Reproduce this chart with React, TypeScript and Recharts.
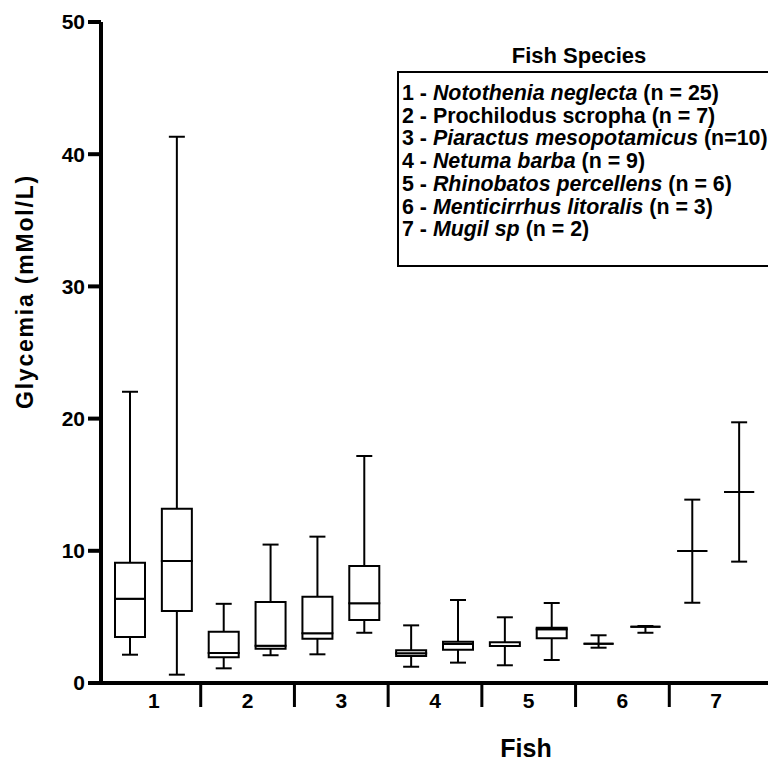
import React from 'react';
import { ComposedChart, Bar, XAxis, YAxis, Legend, Label } from 'recharts';

// Two boxes per fish species, in plotting order
const boxKeys = ['1a', '1b', '2a', '2b', '3a', '3b', '4a', '4b', '5a', '5b', '6a', '6b', '7a', '7b'];
const groupLabels = ['1', '2', '3', '4', '5', '6', '7'];

// five-number summaries (mMol/L)
const minValues = [2.14, 0.63, 1.11, 2.1, 2.17, 3.8, 1.23, 1.54, 1.34, 1.74, 2.67, 3.8, 6.07, 9.18];
const q1Values = [3.48, 5.45, 1.94, 2.59, 3.35, 4.77, 2.04, 2.52, 2.8, 3.38, 2.97, 4.26, 9.98, 14.45];
const medianValues = [6.38, 9.23, 2.27, 2.82, 3.76, 6.03, 2.25, 2.95, 2.8, 4.06, 2.97, 4.26, 9.98, 14.45];
const q3Values = [9.1, 13.18, 3.88, 6.13, 6.53, 8.85, 2.47, 3.12, 3.08, 4.18, 2.97, 4.26, 9.98, 14.45];
const maxValues = [22.03, 41.32, 5.99, 10.47, 11.07, 17.17, 4.36, 6.28, 4.97, 6.05, 3.61, 4.31, 13.87, 19.72];

const yTicks = [0, 10, 20, 30, 40, 50];

const speciesNames = [
  'Notothenia neglecta',
  'Prochilodus scropha',
  'Piaractus mesopotamicus',
  'Netuma barba',
  'Rhinobatos percellens',
  'Menticirrhus litoralis',
  'Mugil sp',
];
const speciesCounts = ['(n = 25)', '(n = 7)', '(n=10)', '(n = 9)', '(n = 6)', '(n = 3)', '(n = 2)'];
const speciesItalic = [true, false, true, true, true, true, true];

const FONT = '"Liberation Sans", Arial, Helvetica, sans-serif';

// stacked segments: invisible base, lower whisker, lower box, upper box, upper whisker
const data = boxKeys.map((key, i) => ({
  key,
  base: minValues[i],
  lowWhisker: q1Values[i] - minValues[i],
  lowBox: medianValues[i] - q1Values[i],
  highBox: q3Values[i] - medianValues[i],
  highWhisker: maxValues[i] - q3Values[i],
}));

const CAP = 8;

const EmptyShape = () => <g />;

const LowWhiskerShape = (props: any) => {
  const { x, y, width, height } = props;
  const cx = x + width / 2;
  return (
    <g>
      <line x1={cx} x2={cx} y1={y} y2={y + height} stroke="#000" strokeWidth={2} />
      <line x1={cx - CAP} x2={cx + CAP} y1={y + height} y2={y + height} stroke="#000" strokeWidth={2} />
    </g>
  );
};

const HighWhiskerShape = (props: any) => {
  const { x, y, width, height } = props;
  const cx = x + width / 2;
  return (
    <g>
      <line x1={cx} x2={cx} y1={y} y2={y + height} stroke="#000" strokeWidth={2} />
      <line x1={cx - CAP} x2={cx + CAP} y1={y} y2={y} stroke="#000" strokeWidth={2} />
    </g>
  );
};

const BoxShape = (props: any) => {
  const { x, y, width, height } = props;
  const d = `M${x},${y}h${width}v${height}h${-width}Z`;
  return <path d={d} fill="#fff" stroke="#000" strokeWidth={2} />;
};

// first box of a pair carries the group number at the band edge, second box carries the separator
const GroupTick = (props: any) => {
  const { x, y, payload, index } = props;
  const half = payload.offset ?? 0;
  const edge = x + half;
  if (index % 2 === 0) {
    return (
      <text x={edge} y={y + 25} textAnchor="middle" fontSize={21} fontWeight="bold" fontFamily={FONT} fill="#000">
        {groupLabels[index / 2]}
      </text>
    );
  }
  if (index >= boxKeys.length - 1) return <g />;
  return <line x1={edge} x2={edge} y1={y} y2={y + 24} stroke="#000" strokeWidth={3} />;
};

const SpeciesKey = () => (
  <div style={{ position: 'relative', width: 400, height: 230, fontFamily: FONT, fontWeight: 'bold', color: '#000' }}>
    <div style={{ position: 'absolute', left: 0, top: 3, width: 364, textAlign: 'center', fontSize: 22, lineHeight: '25px' }}>
      Fish Species
    </div>
    <div
      style={{
        position: 'absolute',
        left: 0,
        top: 31,
        width: 385,
        height: 196,
        border: '2px solid #000',
        boxSizing: 'border-box',
        paddingTop: 9,
        paddingLeft: 3,
      }}
    >
      {speciesNames.map((name, i) => (
        <div key={name} style={{ fontSize: 21.4, lineHeight: '22.7px', whiteSpace: 'nowrap' }}>
          {i + 1} - <span style={{ fontStyle: speciesItalic[i] ? 'italic' : 'normal' }}>{name}</span> {speciesCounts[i]}
        </div>
      ))}
    </div>
  </div>
);

const YLabel = (props: any) => {
  const vb = props.viewBox;
  const cx = vb.x + 25;
  const cy = vb.y + vb.height / 2 - 61;
  return (
    <text
      transform={`translate(${cx},${cy}) rotate(-90)`}
      textAnchor="middle"
      dominantBaseline="central"
      fontSize={23}
      fontWeight="bold"
      fontFamily={FONT}
      letterSpacing={1.8}
      fill="#000"
    >
      Glycemia (mMol/L)
    </text>
  );
};

export default function App() {
  return (
    <div style={{ position: 'absolute', left: 0, top: 0, width: 768, height: 761, overflow: 'hidden', background: '#fff' }}>
      <ComposedChart width={960} height={761} data={data} margin={{ top: 22, right: 9, bottom: 0, left: 0 }}>
        <XAxis
          dataKey="key"
          type="category"
          interval={0}
          height={78}
          padding={{ left: 6, right: 188 }}
          axisLine={{ stroke: '#000', strokeWidth: 4 }}
          tickLine={false}
          tickSize={0}
          tickMargin={0}
          tick={GroupTick}
        >
          <Label value="Fish" position="insideBottom" offset={4} fontSize={25} fontWeight="bold" fontFamily={FONT} fill="#000" />
        </XAxis>
        <YAxis
          domain={[0, 50]}
          ticks={yTicks}
          interval={0}
          width={101}
          tickSize={13}
          tickMargin={3}
          axisLine={{ stroke: '#000', strokeWidth: 4 }}
          tickLine={{ stroke: '#000', strokeWidth: 4 }}
          tick={{ fill: '#000', fontSize: 21, fontWeight: 'bold', fontFamily: FONT }}
        >
          <Label content={YLabel} />
        </YAxis>
        <Legend
          layout="horizontal"
          verticalAlign="middle"
          align="center"
          wrapperStyle={{ left: 397, top: 40, width: 400, height: 230 }}
          content={SpeciesKey}
        />
        <Bar dataKey="base" stackId="b" barSize={30} shape={EmptyShape} isAnimationActive={false} legendType="none" />
        <Bar dataKey="lowWhisker" stackId="b" barSize={30} shape={LowWhiskerShape} isAnimationActive={false} legendType="none" />
        <Bar dataKey="lowBox" stackId="b" barSize={30} shape={BoxShape} isAnimationActive={false} legendType="none" />
        <Bar dataKey="highBox" stackId="b" barSize={30} shape={BoxShape} isAnimationActive={false} legendType="none" />
        <Bar dataKey="highWhisker" stackId="b" barSize={30} shape={HighWhiskerShape} isAnimationActive={false} legendType="none" />
      </ComposedChart>
    </div>
  );
}
